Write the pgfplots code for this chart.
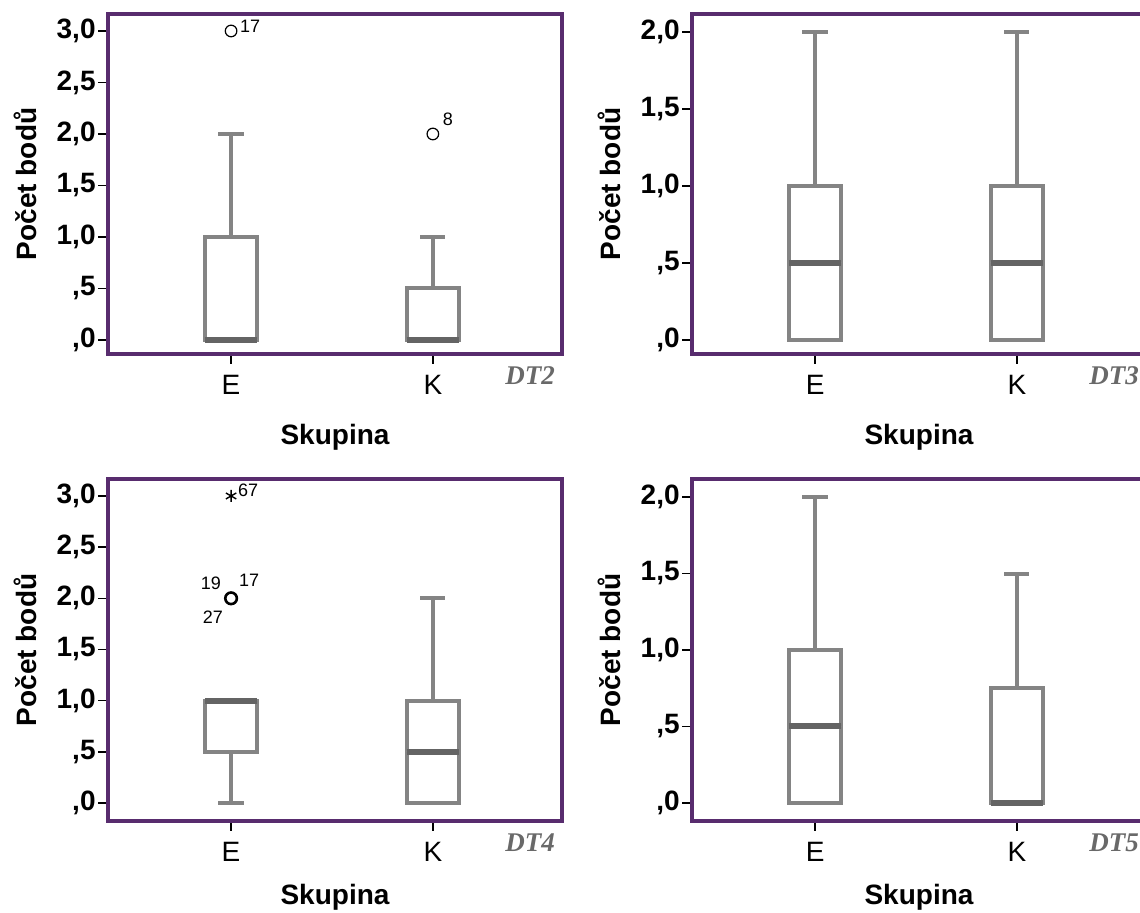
\documentclass[border=0pt]{standalone}
\usepackage{pgfplots}
\pgfplotsset{compat=1.18}
\usepgfplotslibrary{statistics}
\usepackage{fontspec}
\setmainfont{Liberation Sans}
\newfontfamily\dtfont{Liberation Serif}

\definecolor{frame}{RGB}{88,44,110}
\definecolor{boxgray}{RGB}{132,132,132}
\definecolor{medgray}{RGB}{100,100,100}
\definecolor{dtgray}{RGB}{105,105,105}

\newcommand{\ticksize}{\fontsize{14}{16}\selectfont}
\newcommand{\labsize}{\fontsize{14}{17}\selectfont}
\newcommand{\outsize}{\fontsize{9}{11}\selectfont}

\tikzset{dt/.style={anchor=north east, font=\dtfont\bfseries\itshape\fontsize{13.5}{15}\selectfont, text=dtgray}}

\pgfplotsset{
  panel/.style={
    scale only axis, width=227pt, anchor=south west,
    xmin=0.39, xmax=2.64,
    xtick={1,2}, xticklabels={E,K},
    tick pos=left, tick align=outside, major tick length=5pt,
    tick style={black, line width=0.8pt},
    axis line style={draw=frame, line width=2pt},
    xticklabel style={font=\ticksize, yshift=-2pt},
    yticklabel style={font=\bfseries\ticksize, inner xsep=1pt},
    xlabel={Skupina}, ylabel={Počet bodů},
    xlabel style={font=\bfseries\labsize, at={([yshift=-41.5pt]axis description cs:0.5,0)}, anchor=center},
    ylabel style={font=\bfseries\labsize, at={([xshift=-41.5pt]axis description cs:0,0.5)}, anchor=center},
    clip=false,
  },
  lower/.style={
    xlabel style={at={([yshift=-38pt]axis description cs:0.5,0)}},
  },
  bx/.style={
    draw=boxgray, fill=white, line width=2pt,
    boxplot/draw direction=y,
    boxplot/box extend=0.26, boxplot/whisker extend=0.125,
    boxplot/every median/.style={draw=medgray, line width=3pt},
  },
  outl/.style={only marks, mark=o, mark size=2.9pt, black, line width=0.6pt},
}

\begin{document}
\begin{tikzpicture}
\path[use as bounding box, clip] (0,0) rectangle (570pt,456.5pt);

% DT2
\begin{axis}[panel, at={(54pt,279.5pt)}, height=170pt,
  ymin=-0.136, ymax=3.165, ytick={0,0.5,...,3},
  yticklabels={{,0},{,5},{1,0},{1,5},{2,0},{2,5},{3,0}}]
\addplot[bx, boxplot prepared={lower whisker=0, lower quartile=0, median=0,
  upper quartile=1, upper whisker=2, draw position=1}] coordinates {};
\addplot[bx, boxplot prepared={lower whisker=0, lower quartile=0, median=0,
  upper quartile=0.5, upper whisker=1, draw position=2}] coordinates {};
\addplot[outl] coordinates {(1,3) (2,2)};
\node[font=\outsize] at (axis cs:1.094,3.05) {17};
\node[font=\outsize] at (axis cs:2.075,2.146) {8};
\node[dt] at ([xshift=0pt,yshift=-3pt]rel axis cs:1,0) {DT2};
\end{axis}

% DT3
\begin{axis}[panel, at={(346pt,279.5pt)}, height=170pt,
  ymin=-0.091, ymax=2.117, ytick={0,0.5,...,2},
  yticklabels={{,0},{,5},{1,0},{1,5},{2,0}}]
\addplot[bx, boxplot prepared={lower whisker=0, lower quartile=0, median=0.5,
  upper quartile=1, upper whisker=2, draw position=1}] coordinates {};
\addplot[bx, boxplot prepared={lower whisker=0, lower quartile=0, median=0.5,
  upper quartile=1, upper whisker=2, draw position=2}] coordinates {};
\node[dt] at ([xshift=0pt,yshift=-3pt]rel axis cs:1,0) {DT3};
\end{axis}

% DT4
\begin{axis}[panel, lower, at={(54pt,46pt)}, height=171pt,
  ymin=-0.176, ymax=3.166, ytick={0,0.5,...,3},
  yticklabels={{,0},{,5},{1,0},{1,5},{2,0},{2,5},{3,0}}]
\addplot[bx, boxplot prepared={lower whisker=0, lower quartile=0.5, median=1,
  upper quartile=1, upper whisker=1, draw position=1}] coordinates {};
\addplot[bx, boxplot prepared={lower whisker=0, lower quartile=0, median=0.5,
  upper quartile=1, upper whisker=2, draw position=2}] coordinates {};
\addplot[outl, line width=1.3pt] coordinates {(1,2)};
\addplot[only marks, mark=asterisk, mark size=3pt, black, line width=0.7pt] coordinates {(1,3)};
\node[font=\outsize] at (axis cs:1.084,3.06) {67};
\node[font=\outsize] at (axis cs:0.90,2.15) {19};
\node[font=\outsize] at (axis cs:1.09,2.18) {17};
\node[font=\outsize] at (axis cs:0.91,1.82) {27};
\node[dt] at ([xshift=0pt,yshift=-3pt]rel axis cs:1,0) {DT4};
\end{axis}

% DT5
\begin{axis}[panel, lower, at={(346pt,46pt)}, height=171pt,
  ymin=-0.118, ymax=2.118, ytick={0,0.5,...,2},
  yticklabels={{,0},{,5},{1,0},{1,5},{2,0}}]
\addplot[bx, boxplot prepared={lower whisker=0, lower quartile=0, median=0.5,
  upper quartile=1, upper whisker=2, draw position=1}] coordinates {};
\addplot[bx, boxplot prepared={lower whisker=0, lower quartile=0, median=0,
  upper quartile=0.75, upper whisker=1.5, draw position=2}] coordinates {};
\node[dt] at ([xshift=0pt,yshift=-3pt]rel axis cs:1,0) {DT5};
\end{axis}
\end{tikzpicture}
\end{document}
